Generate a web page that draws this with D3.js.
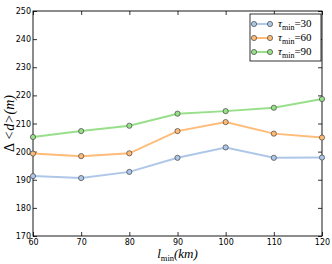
<!DOCTYPE html>
<html>
<head>
<meta charset="utf-8">
<script src="https://cdn.jsdelivr.net/npm/d3@7/dist/d3.min.js"></script>
<style>
  body { margin: 0; background: #fff; }
  text { font-family: "DejaVu Sans", sans-serif; }
  .math { font-family: "Liberation Serif", "DejaVu Serif", serif; font-style: italic; }
</style>
</head>
<body>
<svg id="chart" width="332" height="264"></svg>
<script>
// data
var lmin = [60, 70, 80, 90, 100, 110, 120];
var tau30 = [191.3, 190.6, 192.8, 197.8, 201.5, 197.8, 197.9];
var tau60 = [199.3, 198.4, 199.4, 207.3, 210.5, 206.4, 205.0];
var tau90 = [205.2, 207.3, 209.2, 213.5, 214.4, 215.6, 218.7];
var seriesNames = ["30", "60", "90"];
var colors = ["#aec7e8", "#ffbb78", "#98df8a"];
var xTicks = [60, 70, 80, 90, 100, 110, 120];
var yTicks = [170, 180, 190, 200, 210, 220, 230, 240, 250];

var svg = d3.select("#chart");
var margin = {left: 33, right: 10, top: 11, bottom: 28};
var width = 332 - margin.left - margin.right,
    height = 264 - margin.top - margin.bottom;

var x = d3.scaleLinear().domain([60, 120]).range([0, width]);
var y = d3.scaleLinear().domain([170, 250]).range([height, 0]);

var g = svg.append("g").attr("transform", "translate(" + margin.left + "," + margin.top + ")");

// axes, ticks pointing inward on all sides
function styleAxis(sel) {
  sel.select(".domain").remove();
  sel.selectAll("line").attr("stroke", "#000").attr("stroke-width", 0.8);
  sel.selectAll("text").attr("font-size", 8).attr("fill", "#000");
}
g.append("g").attr("transform", "translate(0," + height + ")")
  .call(d3.axisBottom(x).tickValues(xTicks).tickSizeInner(-4).tickSizeOuter(0).tickPadding(3))
  .call(styleAxis);
g.append("g")
  .call(d3.axisTop(x).tickValues(xTicks).tickSizeInner(-4).tickSizeOuter(0).tickFormat(""))
  .call(styleAxis);
g.append("g")
  .call(d3.axisLeft(y).tickValues(yTicks).tickSizeInner(-4).tickSizeOuter(0).tickPadding(2))
  .call(styleAxis);
g.append("g").attr("transform", "translate(" + width + ",0)")
  .call(d3.axisRight(y).tickValues(yTicks).tickSizeInner(-4).tickSizeOuter(0).tickFormat(""))
  .call(styleAxis);

g.append("rect").attr("width", width).attr("height", height)
  .attr("fill", "none").attr("stroke", "#000").attr("stroke-width", 0.9);

var series = [tau30, tau60, tau90];
var line = d3.line().x(function(d, i) { return x(lmin[i]); }).y(function(d) { return y(d); });

series.forEach(function(vals, k) {
  g.append("path").datum(vals)
    .attr("d", line)
    .attr("fill", "none")
    .attr("stroke", colors[k])
    .attr("stroke-width", 2);
  g.selectAll(".pt" + k).data(vals).enter().append("circle")
    .attr("cx", function(d, i) { return x(lmin[i]); })
    .attr("cy", function(d) { return y(d); })
    .attr("r", 2.6)
    .attr("fill", colors[k])
    .attr("stroke", "#444")
    .attr("stroke-width", 0.7);
});

// legend
var lg = svg.append("g").attr("transform", "translate(250,14)");
lg.append("rect").attr("width", 71).attr("height", 47)
  .attr("fill", "#fff").attr("stroke", "#000").attr("stroke-width", 0.8);
seriesNames.forEach(function(name, k) {
  var yy = 10 + k * 14;
  lg.append("line").attr("x1", 4).attr("x2", 20).attr("y1", yy).attr("y2", yy)
    .attr("stroke", colors[k]).attr("stroke-width", 2);
  [4, 20].forEach(function(cx) {
    lg.append("circle").attr("cx", cx).attr("cy", yy).attr("r", 2.6)
      .attr("fill", colors[k]).attr("stroke", "#444").attr("stroke-width", 0.7);
  });
  var t = lg.append("text").attr("class", "math").attr("x", 28).attr("y", yy + 3)
    .attr("font-size", 11);
  t.append("tspan").text("τ");
  t.append("tspan").attr("font-style", "normal").attr("font-size", 8).attr("dy", 2.5).text("min");
  t.append("tspan").attr("font-style", "normal").attr("dy", -2.5).text("=" + name);
});

// axis labels
var xl = svg.append("text").attr("class", "math")
  .attr("x", margin.left + width / 2).attr("y", 258)
  .attr("text-anchor", "middle").attr("font-size", 13);
xl.append("tspan").text("l");
xl.append("tspan").attr("font-style", "normal").attr("font-size", 8.5).attr("dy", 2.5).text("min");
xl.append("tspan").attr("dy", -2.5).text("(km)");

var yl = svg.append("text").attr("class", "math")
  .attr("transform", "translate(14," + (margin.top + height / 2) + ") rotate(-90)")
  .attr("text-anchor", "middle").attr("font-size", 14);
yl.append("tspan").attr("font-style", "normal").text("Δ ");
yl.append("tspan").text("<d>(m)");
</script>
</body>
</html>
